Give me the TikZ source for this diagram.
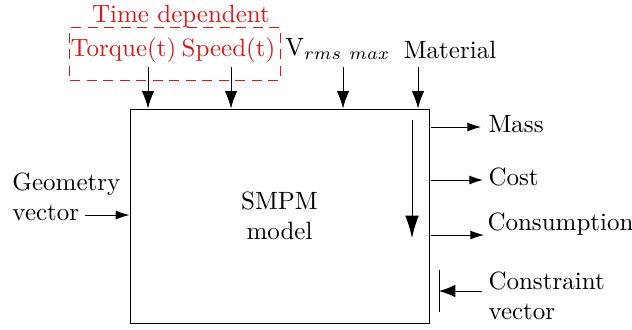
\documentclass[tikz,border=0pt]{standalone}
\usetikzlibrary{arrows.meta}
\definecolor{tdred}{RGB}{215,25,25}
\begin{document}
\begin{tikzpicture}[x=0.4pt,y=-0.4pt,
  lbl/.style={inner sep=0pt, font=\normalsize},
  inarr/.style={-{Latex[length=7pt,width=5pt]}},
  outarr/.style={-{Latex[length=5.5pt,width=3.6pt]}},
  bigarr/.style={-{Latex[length=9pt,width=5.5pt]}},
  conarr/.style={-{Latex[length=6.5pt,width=5pt]}}]
\useasboundingbox (0,0) rectangle (632,329);
% main box
\node[draw, minimum width=119.6pt, minimum height=85.6pt, inner sep=0pt, align=center] (box) at (279.5,216) {SMPM\\model};
% time dependent group
\node[draw=tdred, color=tdred, dashed, dash pattern=on 4pt off 2.6pt, minimum width=84pt, minimum height=21.2pt, inner sep=0pt] (tdbox) at (175,53.5) {};
\node[lbl, text=tdred] (tdlbl) at (181,16) {Time dependent};
\node[lbl, text=tdred] (torque) at (123.5,50) {Torque(t)};
\node[lbl, text=tdred] (speed) at (228.5,50) {Speed(t)};
\node[lbl] (vrms) at (338,49) {V$_{rms\ max}$};
\node[lbl] (mat) at (450,50) {Material};
% top inputs
\coordinate (c1) at (148,67);
\coordinate (c2) at (231,67);
\coordinate (c3) at (343,67);
\coordinate (c4) at (418,67);
\draw[inarr] (c1) -- (c1 |- box.north);
\draw[inarr] (c2) -- (c2 |- box.north);
\draw[inarr] (c3) -- (c3 |- box.north);
\draw[inarr] (c4) -- (c4 |- box.north);
% internal arrow
\coordinate (i1) at (412,120);
\coordinate (i2) at (412,238);
\draw[bigarr] (i1) -- (i2);
% outputs
\node[lbl, anchor=west] (mass) at (488,124) {Mass};
\node[lbl, anchor=west] (cost) at (488,177) {Cost};
\node[lbl, anchor=west] (cons) at (487,224) {Consumption};
\coordinate (o1) at (431,127);
\coordinate (o2) at (431,180);
\coordinate (o3) at (431,235);
\draw[outarr] (o1) -- (481,127);
\draw[outarr] (o2) -- (483,180);
\draw[outarr] (o3) -- (484,235);
% constraint
\node[lbl, anchor=west, align=left] (constr) at (488,296) {Constraint\\vector};
\coordinate (b1) at (439,270);
\coordinate (b2) at (439,312);
\draw (b1) -- (b2);
\coordinate (cs) at (482,291);
\draw[conarr] (cs) -- (cs -| b1);
% geometry
\node[lbl, anchor=west, align=left] (geo) at (12,197) {Geometry\\vector};
\coordinate (g1) at (85,215);
\draw[outarr] (g1) -- (g1 -| box.west);
\end{tikzpicture}
\end{document}
